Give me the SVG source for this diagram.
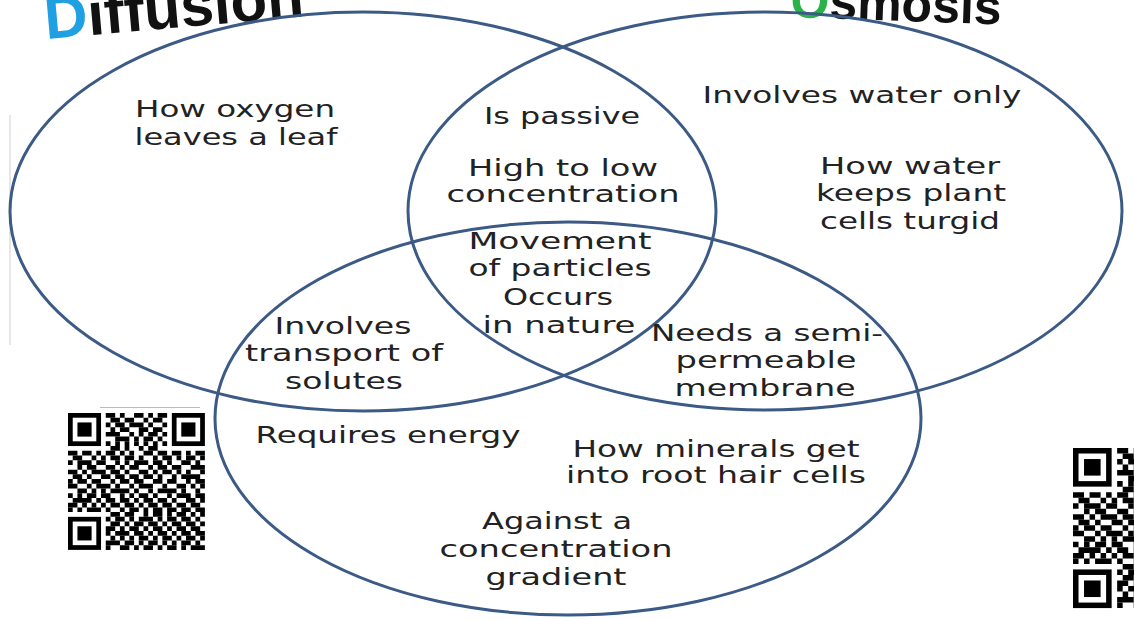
<svg xmlns="http://www.w3.org/2000/svg" width="1134" height="620" viewBox="0 0 1134 620">
<style>
.ring{fill:none;stroke:#3b5a85;stroke-width:3}
.t{font-family:"DejaVu Sans","Liberation Sans",sans-serif;font-size:23px;fill:#222;text-anchor:middle}
.title{font-family:"Liberation Sans","DejaVu Sans",sans-serif;font-weight:bold;fill:#111}
.q path{fill:none;stroke:#000;stroke-width:1}
</style>
<defs>
<g id="finder">
<rect x="0.5" y="0.5" width="6" height="6" fill="none" stroke="#000" stroke-width="1"/>
<rect x="2" y="2" width="3" height="3" fill="#000"/>
</g>
<g id="qr" class="q">
<use href="#finder"/>
<use href="#finder" x="22"/>
<use href="#finder" y="22"/>
<path d="M8 0.5h13" stroke-dasharray="2 1 1 2 2 1 1 1 2"/>
<path d="M8 1.5h13" stroke-dasharray="0 1 2 1 2 2 1 1 2 1"/>
<path d="M8 2.5h13" stroke-dasharray="1 1 2 1 3 1 1 2 1"/>
<path d="M8 3.5h13" stroke-dasharray="0 1 1 1 2 2 2 1 2 1"/>
<path d="M8 4.5h13" stroke-dasharray="3 2 1 1 1 1 2 1 1"/>
<path d="M8 5.5h13" stroke-dasharray="0 2 3 1 1 1 2 1 1 1"/>
<path d="M8 6.5h13" stroke-dasharray="1 1"/>
<path d="M8 7.5h13" stroke-dasharray="0 1 2 1 1 2 1 1 2 2"/>
<path d="M0 8.5h29" stroke-dasharray="2 1 2 1 1 1 2 1 1 1 1 2 2 1 2 1 2 1 1 1 2"/>
<path d="M0 9.5h29" stroke-dasharray="0 1 2 2 1 1 1 1 2 1 2 1 1 2 1 1 2 1 1 1 2 1 1"/>
<path d="M0 10.5h29" stroke-dasharray="1 1 3 1 2 2 1 1 1 1 3 1 2 1 1 2 2 1 1 1"/>
<path d="M0 11.5h29" stroke-dasharray="0 2 1 1 2 2 2 1 1 1 2 2 1 1 2 1 2 2 3"/>
<path d="M0 12.5h29" stroke-dasharray="2 1 1 1 3 1 2 1 1 2 2 1 1 1 2 1 1 1 1 2 1"/>
<path d="M0 13.5h29" stroke-dasharray="0 1 2 1 1 2 2 1 2 1 2 1 2 1 1 2 1 1 4 1"/>
<path d="M0 14.5h29" stroke-dasharray="1 1 2 1 2 2 1 1 2 1 2 2 2 1 2 2 1 1 2"/>
<path d="M0 15.5h29" stroke-dasharray="2 2 1 1 3 1 1 2 1 1 3 2 1 2 2 1 1 1 1"/>
<path d="M0 16.5h29" stroke-dasharray="0 2 2 1 1 1 1 1 4 1 1 2 1 1 4 1 1 2 1 1"/>
<path d="M0 17.5h29" stroke-dasharray="1 1 1 1 2 1 2 2 1 1 1 1 2 1 1 2 1 1 3 1 2"/>
<path d="M0 18.5h29" stroke-dasharray="0 1 4 1 1 1 2 1 2 1 1 1 2 1 2 1 1 2 2 1 1"/>
<path d="M0 19.5h29" stroke-dasharray="2 1 1 1 1 1 1 1 2 1 2 1 1 1 2 1 2 1 2 1 2 1"/>
<path d="M0 20.5h29" stroke-dasharray="1 1 1 1 3 1 1 2 1 1 2 1 1 1 2 1 2 1 2 1 2"/>
<path d="M8 21.5h21" stroke-dasharray="0 1 2 1 2 2 1 1 2 1 1 1 2 1 1 1 1"/>
<path d="M8 22.5h21" stroke-dasharray="1 1 2 1 1 1 3 1 1 1 2 1 2 1 1 1"/>
<path d="M8 23.5h21" stroke-dasharray="0 1 2 1 1 1 2 1 2 1 1 1 2 1 2 1 1"/>
<path d="M8 24.5h21" stroke-dasharray="2 1 1 1 2 1 1 1 2 1 1 1 2 1 2 1"/>
<path d="M8 25.5h21" stroke-dasharray="1 1 3 1 2 1 1 1 2 1 1 1 2 1 2"/>
<path d="M8 26.5h21" stroke-dasharray="0 1 1 1 1 1 1 1 2 1 1 1 2 1 1 1 2 1 1"/>
<path d="M8 27.5h21" stroke-dasharray="3 1 2 1 1 1 2 1 1 1 1 1 2 1 1 1"/>
<path d="M8 28.5h21" stroke-dasharray="1 2 2 1 1 1 2 1 1 1 2 1 1 1 3"/>
</g>
</defs>
<rect width="1134" height="620" fill="#fff"/>
<line x1="10" y1="115" x2="10" y2="345" stroke="#cfcfcf" stroke-width="1"/>
<g id="titles">
<text class="title" x="46" y="39" font-size="60" transform="rotate(-5 46 39)"><tspan fill="#1fa0e3">D</tspan>iffusion</text>
<text class="title" x="790" y="17" font-size="50" transform="rotate(2 790 17)"><tspan fill="#2bb34a">O</tspan>smosis</text>
</g>
<g id="connectors">
<ellipse id="diffusion-ring" class="ring" cx="363" cy="211.5" rx="353" ry="199.5"/>
<ellipse id="osmosis-ring" class="ring" cx="765" cy="211" rx="357" ry="199"/>
<ellipse id="active-ring" class="ring" cx="568" cy="418.5" rx="353" ry="196.5"/>
</g>
<g id="diffusion-only">
<text class="t" x="235" y="117" textLength="200" lengthAdjust="spacingAndGlyphs">How oxygen</text>
<text class="t" x="236" y="145" textLength="203" lengthAdjust="spacingAndGlyphs">leaves a leaf</text>
</g>
<g id="diffusion-osmosis">
<text class="t" x="562" y="124" textLength="156" lengthAdjust="spacingAndGlyphs">Is passive</text>
<text class="t" x="563" y="176" textLength="190" lengthAdjust="spacingAndGlyphs">High to low</text>
<text class="t" x="563" y="202" textLength="233" lengthAdjust="spacingAndGlyphs">concentration</text>
</g>
<g id="all-three">
<text class="t" x="560" y="249" textLength="183" lengthAdjust="spacingAndGlyphs">Movement</text>
<text class="t" x="560" y="276" textLength="183" lengthAdjust="spacingAndGlyphs">of particles</text>
<text class="t" x="558" y="305" textLength="110" lengthAdjust="spacingAndGlyphs">Occurs</text>
<text class="t" x="559" y="333" textLength="153" lengthAdjust="spacingAndGlyphs">in nature</text>
</g>
<g id="osmosis-only">
<text class="t" x="862" y="103" textLength="319" lengthAdjust="spacingAndGlyphs">Involves water only</text>
<text class="t" x="910" y="174" textLength="180" lengthAdjust="spacingAndGlyphs">How water</text>
<text class="t" x="911" y="201" textLength="190" lengthAdjust="spacingAndGlyphs">keeps plant</text>
<text class="t" x="910" y="229" textLength="180" lengthAdjust="spacingAndGlyphs">cells turgid</text>
</g>
<g id="diffusion-active">
<text class="t" x="343" y="334" textLength="137" lengthAdjust="spacingAndGlyphs">Involves</text>
<text class="t" x="344" y="361" textLength="198" lengthAdjust="spacingAndGlyphs">transport of</text>
<text class="t" x="344" y="389" textLength="118" lengthAdjust="spacingAndGlyphs">solutes</text>
</g>
<g id="osmosis-active">
<text class="t" x="767" y="341" textLength="232" lengthAdjust="spacingAndGlyphs">Needs a semi-</text>
<text class="t" x="766" y="368" textLength="181" lengthAdjust="spacingAndGlyphs">permeable</text>
<text class="t" x="765" y="396" textLength="181" lengthAdjust="spacingAndGlyphs">membrane</text>
</g>
<g id="active-only">
<text class="t" x="388" y="443" textLength="265" lengthAdjust="spacingAndGlyphs">Requires energy</text>
<text class="t" x="716" y="457" textLength="287" lengthAdjust="spacingAndGlyphs">How minerals get</text>
<text class="t" x="716" y="483" textLength="300" lengthAdjust="spacingAndGlyphs">into root hair cells</text>
<text class="t" x="557" y="529" textLength="150" lengthAdjust="spacingAndGlyphs">Against a</text>
<text class="t" x="556" y="557" textLength="233" lengthAdjust="spacingAndGlyphs">concentration</text>
<text class="t" x="556" y="585" textLength="141" lengthAdjust="spacingAndGlyphs">gradient</text>
</g>
<g id="qr-left">
<rect x="50" y="407" width="162" height="155" fill="#fff"/>
<line x1="100" y1="407.5" x2="200" y2="407.5" stroke="#bbb" stroke-width="1"/>
<use href="#qr" transform="translate(68 413) scale(4.72)"/>
</g>
<g id="qr-right">
<use href="#qr" transform="translate(1073 448) scale(5.52)"/>
</g>
</svg>
